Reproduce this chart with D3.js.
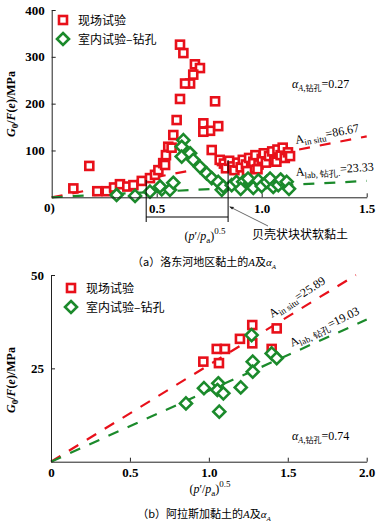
<!DOCTYPE html>
<html>
<head>
<meta charset="utf-8">
<script src="https://cdn.jsdelivr.net/npm/d3@7"></script>
<style>
  body { margin: 0; background: #fff; }
  text { font-family: "Liberation Serif", "Times New Roman", serif; }
  .cjk { font-family: "Noto Sans CJK SC", sans-serif; }
</style>
</head>
<body>
<div id="chart"></div>
<script>
// panel (a) Nakdong river clay
var fieldA = [[0.103,19],[0.179,67],[0.217,13],[0.262,13],[0.297,21],[0.325,28],[0.36,23],[0.389,26],
  [0.429,35],[0.468,41],[0.492,48],[0.508,58],[0.531,73],[0.544,90],[0.555,108],[0.54,69],[0.571,106],
  [0.579,133],[0.595,165],[0.611,210],[0.611,326],[0.627,308],[0.682,284],[0.706,276],[0.674,262],
  [0.659,243],[0.635,243],[0.778,205],[0.722,158],[0.754,142],[0.793,152],[0.722,140],[0.762,101],[0.80,80],
  [0.82,72],[0.83,62],[0.845,78],[0.86,66],[0.87,58],[0.885,74],[0.9,64],[0.91,80],[0.925,70],[0.94,84],
  [0.95,62],[0.96,76],[0.97,90],[0.985,70],[1.0,82],[1.01,94],[1.02,74],[1.035,88],[1.05,98],[1.06,80],
  [1.07,76],[1.075,102],[1.09,90],[1.1,106],[1.11,84],[1.125,96],[1.135,88],[0.93,56],[0.98,60]];
var labA = [[0.309,5],[0.397,3],[0.468,12],[0.524,17],[0.516,23],[0.563,16],[0.579,31],[0.627,122],
  [0.619,108],[0.619,87],[0.659,94],[0.674,80],[0.706,65],[0.738,51],[0.762,41],[0.793,33],[0.81,16],
  [0.817,23],[0.857,26],[0.88,33],[0.912,33],[0.944,30],[0.96,20],[0.984,36],[1.0,24],[1.024,33],
  [1.04,40],[1.055,22],[1.079,26],[1.09,38],[1.119,33],[1.13,18],[0.9,18],[0.935,40]];
var xTicksA = [0.5, 1.0, 1.5];
var yTicksA = [100, 200, 300, 400];
var fitA = {insitu: 86.67, lab: 23.33};
var bracketA = [0.45, 0.84];

// panel (b) Alaska clay
var fieldB = [[0.965,26.8],[1.05,30.2],[1.102,30.2],[1.064,26.4],[1.197,32.9],[1.275,36.6],
  [1.275,31.7],[1.43,35.7],[1.398,30.2]];
var labB = [[0.855,15.6],[0.969,19.7],[1.06,21.0],[1.054,19.2],[1.092,18.3],[1.066,13.4],
  [1.202,19.9],[1.271,33.9],[1.278,26.8],[1.278,24.1],[1.398,29.0],[1.43,27.7]];
var xTicksB = [0, 0.5, 1.0, 1.5, 2.0];
var yTicksB = [25, 50];
var fitB = {insitu: 25.89, lab: 19.03};

var RED = "#e8101a", GREEN = "#1b8a2b";

var svg = d3.select("#chart").append("svg")
  .attr("width", 385).attr("height", 524);

function squares(g, data, x, y) {
  g.selectAll(null).data(data).enter().append("rect")
    .attr("x", d => x(d[0]) - 4).attr("y", d => y(d[1]) - 4)
    .attr("width", 8).attr("height", 8)
    .attr("fill", "#fff").attr("stroke", RED).attr("stroke-width", 2.6);
}
function diamonds(g, data, x, y) {
  g.selectAll(null).data(data).enter().append("path")
    .attr("d", d => { var cx = x(d[0]), cy = y(d[1]);
      return `M${cx},${cy-6}L${cx+6},${cy}L${cx},${cy+6}L${cx-6},${cy}Z`; })
    .attr("fill", "#fff").attr("stroke", GREEN).attr("stroke-width", 2.6);
}
function fitLine(g, A, xmax, x, y, color) {
  g.append("line")
    .attr("x1", x(0)).attr("y1", y(0))
    .attr("x2", x(xmax)).attr("y2", y(A * xmax))
    .attr("stroke", color).attr("stroke-width", 2.2)
    .attr("stroke-dasharray", "11,10");
}
function yLabel(g, cx, cy) {
  var t = g.append("text")
    .attr("transform", `translate(${cx},${cy}) rotate(-90)`)
    .attr("text-anchor", "middle").style("font-size", "12px").style("font-weight", "bold");
  t.append("tspan").style("font-style", "italic").text("G");
  t.append("tspan").attr("dy", 3).style("font-size", "9px").text("0");
  t.append("tspan").attr("dy", -3).text("/");
  t.append("tspan").style("font-style", "italic").text("F");
  t.append("tspan").text("(");
  t.append("tspan").style("font-style", "italic").text("e");
  t.append("tspan").text(")/MPa");
}
function xLabel(g, cx, cy) {
  var t = g.append("text").attr("x", cx).attr("y", cy)
    .attr("text-anchor", "middle").style("font-size", "12px");
  t.append("tspan").text("(");
  t.append("tspan").style("font-style", "italic").text("p");
  t.append("tspan").text("′/");
  t.append("tspan").style("font-style", "italic").text("p");
  t.append("tspan").attr("dy", 3).style("font-size", "9px").text("a");
  t.append("tspan").attr("dy", -3).text(")");
  t.append("tspan").attr("dy", -6).style("font-size", "9px").text("0.5");
}
function legend(g, lx, ly) {
  g.append("rect").attr("x", lx - 4).attr("y", ly - 4).attr("width", 8).attr("height", 8)
    .attr("fill", "#fff").attr("stroke", RED).attr("stroke-width", 2.6);
  g.append("text").attr("class", "cjk").attr("x", lx + 15).attr("y", ly + 4.5)
    .style("font-size", "12px").text("现场试验");
  var dy = ly + 19;
  g.append("path").attr("d", `M${lx},${dy-6}L${lx+6},${dy}L${lx},${dy+6}L${lx-6},${dy}Z`)
    .attr("fill", "#fff").attr("stroke", GREEN).attr("stroke-width", 2.6);
  g.append("text").attr("class", "cjk").attr("x", lx + 15).attr("y", dy + 4.5)
    .style("font-size", "12px").text("室内试验–钻孔");
}
function alphaText(g, x0, y0, val) {
  var t = g.append("text").attr("x", x0).attr("y", y0).style("font-size", "12px");
  t.append("tspan").style("font-style", "italic").text("α");
  t.append("tspan").attr("dy", 3).style("font-size", "8px").style("font-style", "italic").text("A");
  t.append("tspan").style("font-size", "8px").attr("class", "cjk").text(",钻孔");
  t.append("tspan").attr("dy", -3).text("=" + val);
}
function aText(g, x0, y0, angle, sub, val) {
  var t = g.append("text").attr("transform", `translate(${x0},${y0}) rotate(${angle})`)
    .style("font-size", "12px");
  t.append("tspan").text("A");
  t.append("tspan").attr("dy", 3).style("font-size", "9px").text(sub);
  t.append("tspan").attr("dy", -3).text("=" + val);
}
function axes(g, x, y, xt, yt, h, fmt) {
  g.append("g").attr("transform", `translate(0,${h})`)
    .call(d3.axisBottom(x).tickValues(xt).tickFormat(fmt).tickSizeInner(-4).tickSizeOuter(0).tickPadding(6))
    .call(a => a.selectAll("text").style("font-size", "13px").style("font-weight", "bold")
      .attr("font-family", "Liberation Serif"));
  g.append("g").attr("transform", `translate(${x(0)},0)`)
    .call(d3.axisLeft(y).tickValues(yt).tickSizeInner(-4).tickSizeOuter(0).tickPadding(7))
    .call(a => a.selectAll("text").style("font-size", "13px").style("font-weight", "bold")
      .attr("font-family", "Liberation Serif"));
  g.selectAll(".domain").attr("stroke", "#222");
  g.selectAll(".tick line").attr("stroke", "#222");
}

// ---- panel (a)
var xA = d3.scaleLinear().domain([0, 1.5]).range([51.7, 366.7]);
var yA = d3.scaleLinear().domain([0, 400]).range([197.3, 10]);
var gA = svg.append("g");
fitLine(gA, fitA.insitu, 1.5, xA, yA, RED);
fitLine(gA, fitA.lab, 1.5, xA, yA, GREEN);
squares(gA, fieldA, xA, yA);
diamonds(gA, labA, xA, yA);
axes(gA, xA, yA, xTicksA, yTicksA, yA(0), d3.format(".1f"));
gA.append("text").attr("x", 44).attr("y", 212).style("font-size", "13px").style("font-weight", "bold").text("0)");
yLabel(gA, 15, 104);
xLabel(gA, 205, 240);
legend(gA, 63, 20);
alphaText(gA, 292, 88, "0.27");
aText(gA, 296, 144, -11, "in situ", "86.67");
aText(gA, 296, 176, -4, "lab, 钻孔.", "23.33");
// bracket for shelly blocky soft clay
gA.append("line").attr("x1", xA(bracketA[0])).attr("x2", xA(bracketA[0])).attr("y1", 180).attr("y2", 222).attr("stroke", "#000");
gA.append("line").attr("x1", xA(bracketA[1])).attr("x2", xA(bracketA[1])).attr("y1", 160).attr("y2", 222).attr("stroke", "#000");
gA.append("line").attr("x1", xA(bracketA[0])).attr("x2", xA(bracketA[1])).attr("y1", 217).attr("y2", 217).attr("stroke", "#000");
gA.append("line").attr("x1", xA(bracketA[1]) + 2).attr("y1", 207).attr("x2", 268).attr("y2", 226)
  .attr("stroke", "#444").attr("stroke-width", 0.8);
gA.append("path").attr("d", `M${xA(bracketA[1]) + 1},206.5l5,0.5l-2,2.5Z`).attr("fill", "#222");
gA.append("text").attr("class", "cjk").attr("x", 252).attr("y", 239).style("font-size", "12px").text("贝壳状块状软黏土");
var capA = gA.append("text").attr("x", 204).attr("y", 266).attr("text-anchor", "middle").style("font-size", "11px");
capA.append("tspan").attr("class", "cjk").text("（a）洛东河地区黏土的");
capA.append("tspan").style("font-style", "italic").text("A");
capA.append("tspan").attr("class", "cjk").text("及");
capA.append("tspan").style("font-style", "italic").text("α");
capA.append("tspan").attr("dy", 3).style("font-size", "7px").style("font-style", "italic").text("A");

// ---- panel (b)
var xB = d3.scaleLinear().domain([0, 2.0]).range([51, 366.7]);
var yB = d3.scaleLinear().domain([0, 50]).range([461.7, 275]);
var gB = svg.append("g");
fitLine(gB, fitB.insitu, 50 / fitB.insitu, xB, yB, RED);
fitLine(gB, fitB.lab, 2.0, xB, yB, GREEN);
squares(gB, fieldB, xB, yB);
diamonds(gB, labB, xB, yB);
axes(gB, xB, yB, xTicksB, yTicksB, yB(0), d => d === 0 ? "0" : d3.format(".1f")(d));
yLabel(gB, 15, 380);
xLabel(gB, 210, 493);
legend(gB, 71, 288);
alphaText(gB, 292, 440, "0.74");
aText(gB, 272, 318, -33, "in situ", "25.89");
aText(gB, 292, 347, -26, "lab, 钻孔", "19.03");
var capB = gB.append("text").attr("x", 204).attr("y", 518).attr("text-anchor", "middle").style("font-size", "11px");
capB.append("tspan").attr("class", "cjk").text("（b）阿拉斯加黏土的");
capB.append("tspan").style("font-style", "italic").text("A");
capB.append("tspan").attr("class", "cjk").text("及");
capB.append("tspan").style("font-style", "italic").text("α");
capB.append("tspan").attr("dy", 3).style("font-size", "7px").style("font-style", "italic").text("A");
</script>
</body>
</html>
